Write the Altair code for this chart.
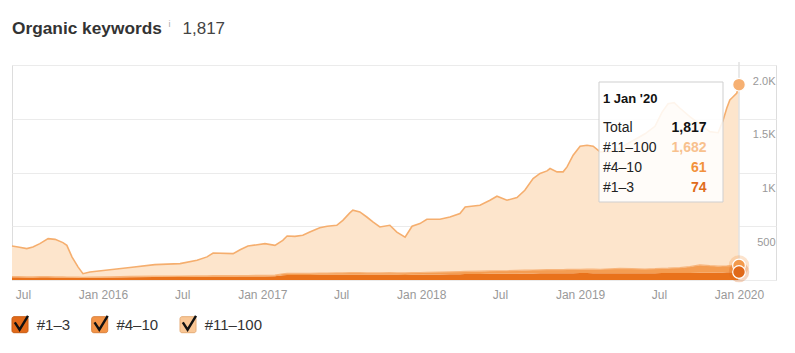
import altair as alt
import pandas as pd

# ---------------- data ----------------
dates = [
    "2015-06-06", "2015-06-20", "2015-07-10", "2015-07-24", "2015-08-09", "2015-08-28",
    "2015-09-13", "2015-10-01", "2015-10-10", "2015-10-22", "2015-11-05", "2015-11-16",
    "2015-12-02", "2016-01-17", "2016-03-03", "2016-04-29", "2016-06-26", "2016-08-04",
    "2016-08-27", "2016-09-10", "2016-10-26", "2016-11-11", "2016-11-29", "2017-01-07",
    "2017-01-30", "2017-02-17", "2017-02-27", "2017-03-17", "2017-04-04", "2017-04-20",
    "2017-05-13", "2017-05-30", "2017-06-21", "2017-07-05", "2017-07-21", "2017-07-28",
    "2017-08-13", "2017-08-29", "2017-09-12", "2017-09-28", "2017-10-21", "2017-11-06",
    "2017-11-25", "2017-12-11", "2017-12-29", "2018-01-14", "2018-02-13", "2018-03-08",
    "2018-03-31", "2018-04-12", "2018-05-16", "2018-06-08", "2018-06-24", "2018-07-17",
    "2018-08-09", "2018-08-27", "2018-09-15", "2018-10-01", "2018-10-17", "2018-10-24",
    "2018-11-09", "2018-11-23", "2018-12-02", "2018-12-16", "2019-01-01", "2019-01-17",
    "2019-01-31", "2019-02-16", "2019-03-11", "2019-04-03", "2019-04-30", "2019-05-30",
    "2019-06-22", "2019-07-08", "2019-07-22", "2019-08-05", "2019-08-18", "2019-09-10",
    "2019-10-03", "2019-10-26", "2019-11-14", "2019-11-25", "2019-12-04", "2019-12-11",
    "2019-12-18", "2019-12-27", "2020-01-01",
]
total = [
    316, 307, 292, 307, 338, 385, 378, 348, 322, 213, 120, 59,
    74, 96, 117, 143, 152, 183, 215, 251, 245, 282, 316, 338,
    322, 369, 409, 406, 416, 446, 487, 500, 509, 555, 624, 649,
    633, 586, 540, 493, 509, 446, 398, 500, 525, 565, 565, 586,
    618, 680, 695, 742, 779, 742, 767, 835, 944, 991, 1015, 1037,
    1006, 1006, 1052, 1161, 1245, 1254, 1245, 1192, 1195, 1230, 1290, 1360,
    1430, 1560, 1640, 1650, 1600, 1520, 1450, 1380, 1370, 1480, 1600, 1674,
    1702, 1739, 1817,
]
top_1_3 = [
    25, 25, 24, 24, 25, 25, 24, 24, 23, 22, 21, 20,
    21, 23, 26, 28, 29, 30, 30, 31, 31, 32, 32, 33,
    34, 44, 46, 46, 47, 47, 48, 48, 49, 49, 50, 50,
    50, 49, 49, 48, 49, 48, 47, 49, 50, 51, 52, 53,
    54, 55, 56, 57, 58, 58, 59, 60, 61, 62, 62, 63,
    62, 62, 63, 63, 64, 64, 63, 62, 62, 63, 63, 62,
    63, 64, 64, 65, 65, 66, 68, 68, 69, 70, 71, 72,
    72, 73, 74,
]
top_4_10 = [
    6, 6, 6, 6, 6, 6, 6, 5, 5, 5, 5, 5,
    5, 6, 7, 8, 8, 8, 9, 9, 9, 10, 10, 10,
    11, 14, 15, 15, 15, 16, 16, 16, 17, 17, 18, 18,
    18, 18, 18, 18, 19, 19, 19, 20, 20, 21, 22, 23,
    24, 25, 26, 27, 28, 28, 30, 31, 32, 33, 34, 34,
    34, 35, 35, 36, 36, 37, 38, 38, 42, 45, 43, 40,
    42, 45, 46, 48, 50, 58, 72, 65, 60, 60, 60, 61,
    60, 61, 61,
]

series_names = ["#1–3", "#4–10", "#11–100"]
x_tick_dates = ["2015-07-01", "2016-01-01", "2016-07-01", "2017-01-01", "2017-07-01",
                "2018-01-01", "2018-07-01", "2019-01-01", "2019-07-01", "2020-01-01"]
x_tick_labels = ["Jul", "Jan 2016", "Jul", "Jan 2017", "Jul",
                 "Jan 2018", "Jul", "Jan 2019", "Jul", "Jan 2020"]
y_ticks = [0, 500, 1000, 1500, 2000]
y_tick_labels = ["", "500", "1K", "1.5K", "2.0K"]
title_text = "Organic keywords"
info_mark = "i"
tooltip_date = "1 Jan '20"
tooltip_names = ["Total", "#11–100", "#4–10", "#1–3"]

# ---------------- styles / layout ----------------
FONT = "Liberation Sans, Arial, Helvetica, sans-serif"
PLOT_W, PLOT_H = 764, 215
fill_colors = ["#e9721b", "#f49d52", "#fde5cc"]
total_line_color = "#f5ae6e"
small_line_color = "#f7b57c"
dot_colors = ["#f6b072", "#f39a4c", "#e0691a"]
halo_sizes = [0, 420, 420]
tip_value_colors = ["#111111", "#f8c18e", "#f2913c", "#e06c1a"]
legend_fill = ["#e26a1a", "#f39447", "#f9c796"]
legend_stroke = ["#c85d14", "#d9813d", "#e6ad78"]
legend_offsets = [0, 79.7, 168]


def dt(s):
    y, m, d = (int(p) for p in s.split("-"))
    return alt.DateTime(year=y, month=m, date=d, utc=True)


# ---------------- derived tables ----------------
top_11_100 = [t - a - b for t, a, b in zip(total, top_1_3, top_4_10)]
rows = []
for i, d in enumerate(dates):
    for rank, (name, vals) in enumerate(zip(series_names, [top_1_3, top_4_10, top_11_100])):
        rows.append({"date": d, "series": name, "value": vals[i], "rank": rank})
long_df = pd.DataFrame(rows)
wide_df = pd.DataFrame({
    "date": dates,
    "total": total,
    "small": [a + b for a, b in zip(top_1_3, top_4_10)],
})

x_label_expr = " : ".join(
    f"utcFormat(datum.value, '%Y-%m-%d') == '{d}' ? '{l}'" for d, l in zip(x_tick_dates, x_tick_labels)
) + " : ''"
y_label_expr = " : ".join(
    f"datum.value == {v} ? '{l}'" for v, l in zip(y_ticks, y_tick_labels)
) + " : ''"

xscale = alt.Scale(type="utc", domain=[alt.DateTime(year=2015, month=6, date=6, utc=True),
                                       alt.DateTime(year=2020, month=3, date=26, utc=True)])
yscale = alt.Scale(domain=[0, 2000], nice=False, zero=True)

xaxis = alt.Axis(values=[dt(d) for d in x_tick_dates], labelExpr=x_label_expr, grid=False,
                 domain=False, ticks=False, tickSize=0, labelColor="#999999", labelFontSize=12,
                 labelFont=FONT, labelPadding=9, labelFlush=False, labelOverlap=False, title=None)
yaxis = alt.Axis(orient="right", values=y_ticks, labelExpr=y_label_expr, grid=True,
                 gridColor="#ebebeb", gridWidth=1, domain=False, ticks=False, tickSize=0,
                 labelAlign="right", labelBaseline="alphabetic", labelOffset=19,
                 labelPadding=-1, labelColor="#999999", labelFontSize=11, labelFont=FONT,
                 title=None)

X = alt.X("date:T", scale=xscale, axis=xaxis)

areas = alt.Chart(long_df).mark_area(interpolate="linear").encode(
    x=X,
    y=alt.Y("value:Q", stack="zero", scale=yscale, axis=yaxis),
    color=alt.Color("series:N", scale=alt.Scale(domain=series_names, range=fill_colors), legend=None),
    order=alt.Order("rank:Q", sort="ascending"),
)

total_line = alt.Chart(wide_df).mark_line(color=total_line_color, strokeWidth=1.6).encode(
    x=X, y=alt.Y("total:Q", scale=yscale, axis=yaxis)
)
small_line = alt.Chart(wide_df).mark_line(color=small_line_color, strokeWidth=1.2).encode(
    x=X, y=alt.Y("small:Q", scale=yscale, axis=yaxis)
)

last_df = pd.DataFrame({"date": [dates[-1]]})
rule = alt.Chart(last_df).mark_rule(color="#e2e2e2", strokeWidth=1.5).encode(
    x=X, y=alt.value(-3), y2=alt.value(PLOT_H)
)

dots_df = pd.DataFrame({
    "date": [dates[-1]] * 3,
    "v": [total[-1], top_1_3[-1] + top_4_10[-1], top_1_3[-1]],
    "c": dot_colors,
    "hs": halo_sizes,
})
halos = alt.Chart(dots_df).mark_point(filled=True, shape="circle", opacity=0.28).encode(
    x=X, y=alt.Y("v:Q", scale=yscale, axis=yaxis), color=alt.Color("c:N", scale=None),
    size=alt.Size("hs:Q", scale=None),
)
dots = alt.Chart(dots_df).mark_point(filled=True, shape="circle", size=160, opacity=1,
                                     stroke="white", strokeWidth=1.2).encode(
    x=X, y=alt.Y("v:Q", scale=yscale, axis=yaxis), color=alt.Color("c:N", scale=None)
)

# ---------------- tooltip box ----------------
one = pd.DataFrame({"a": [0]})
tip_left, tip_right, tip_top, tip_bottom = 587, 711, 17, 137
tip_box = alt.Chart(one).mark_rect(fill="white", fillOpacity=0.87, stroke="#cfcfcf",
                                   strokeWidth=1).encode(
    x=alt.value(tip_left), x2=alt.value(tip_right), y=alt.value(tip_top), y2=alt.value(tip_bottom)
)
tip_title = alt.Chart(pd.DataFrame({"t": [tooltip_date]})).mark_text(
    align="left", baseline="alphabetic", font=FONT, fontSize=13, fontWeight="bold", color="#111111"
).encode(x=alt.value(tip_left + 4), y=alt.value(tip_top + 21), text="t:N")

tip_values = [total[-1], top_11_100[-1], top_4_10[-1], top_1_3[-1]]
tip_df = pd.DataFrame({
    "name": tooltip_names,
    "val": [f"{v:,}" for v in tip_values],
    "c": tip_value_colors,
    "py": [tip_top + 49.7 + 20 * i for i in range(len(tooltip_names))],
})
tip_names = alt.Chart(tip_df).mark_text(
    align="left", baseline="alphabetic", font=FONT, fontSize=14, color="#222222"
).encode(x=alt.value(tip_left + 4), y=alt.Y("py:Q", scale=None), text="name:N")
tip_vals = alt.Chart(tip_df).mark_text(
    align="right", baseline="alphabetic", font=FONT, fontSize=14, fontWeight="bold"
).encode(x=alt.value(tip_right - 16.5), y=alt.Y("py:Q", scale=None), text="val:N",
         color=alt.Color("c:N", scale=None))

# ---------------- title ----------------
title_main = alt.Chart(pd.DataFrame({"t": [title_text]})).mark_text(
    align="left", baseline="alphabetic", font=FONT, fontSize=17.3, fontWeight="bold", color="#333333"
).encode(x=alt.value(0), y=alt.value(-31), text="t:N")
title_info = alt.Chart(pd.DataFrame({"t": [info_mark]})).mark_text(
    align="left", baseline="alphabetic", font=FONT, fontSize=9, color="#aaaaaa"
).encode(x=alt.value(156.5), y=alt.value(-38.5), text="t:N")
title_count = alt.Chart(pd.DataFrame({"t": [f"{total[-1]:,}"]})).mark_text(
    align="left", baseline="alphabetic", font=FONT, fontSize=17, color="#444444"
).encode(x=alt.value(170.5), y=alt.value(-31), text="t:N")

# ---------------- legend ----------------
leg_df = pd.DataFrame({
    "name": series_names,
    "fill": legend_fill,
    "stroke": legend_stroke,
    "bx": legend_offsets,
    "bx2": [o + 16 for o in legend_offsets],
    "cx": [o + 8 for o in legend_offsets],
    "tx": [o + 24.7 for o in legend_offsets],
})
leg_y0 = 251.7
leg_boxes = alt.Chart(leg_df).mark_rect(cornerRadius=2, strokeWidth=1).encode(
    x=alt.X("bx:Q", scale=None), x2="bx2:Q", y=alt.value(leg_y0), y2=alt.value(leg_y0 + 16),
    fill=alt.Fill("fill:N", scale=None), stroke=alt.Stroke("stroke:N", scale=None),
)
check_path = "M -0.65 -0.3 L -0.05 0.62 L 1.0 -1.1"
leg_checks = alt.Chart(leg_df).mark_point(shape=check_path, filled=False, stroke="#111111",
                                          strokeWidth=2.4, size=256, opacity=1).encode(
    x=alt.X("cx:Q", scale=None), y=alt.value(leg_y0 + 8)
)
leg_text = alt.Chart(leg_df).mark_text(
    align="left", baseline="alphabetic", font=FONT, fontSize=15, color="#333333"
).encode(x=alt.X("tx:Q", scale=None), y=alt.value(leg_y0 + 13.3), text="name:N")

chart = alt.layer(
    areas, small_line, total_line, rule, halos, dots,
    tip_box, tip_title, tip_names, tip_vals,
    title_main, title_info, title_count,
    leg_boxes, leg_checks, leg_text,
).properties(
    width=PLOT_W, height=PLOT_H,
    padding={"left": 12, "top": 65, "right": 19, "bottom": 73},
    autosize=alt.AutoSizeParams(type="none"),
).configure_view(stroke=None).configure(background="white")

chart.save("out.html", embed_options={"renderer": "svg", "actions": False})
